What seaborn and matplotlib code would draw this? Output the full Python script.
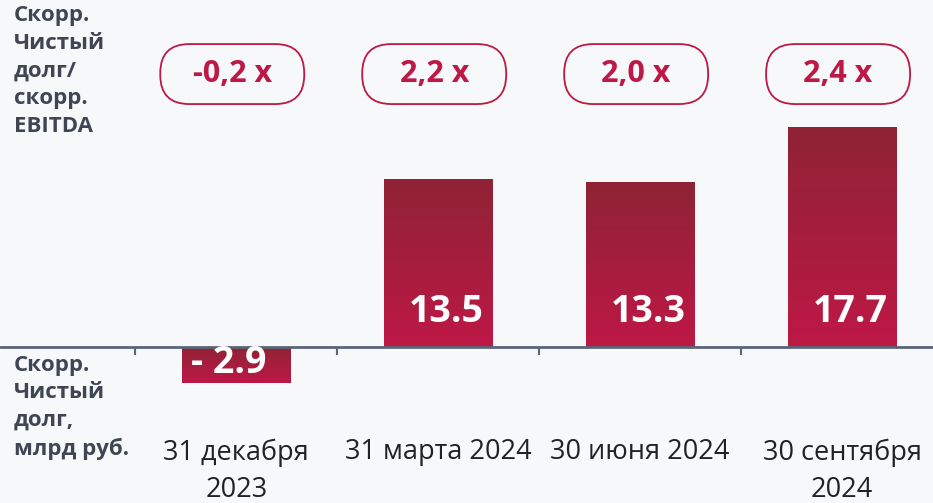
import numpy as np
import pandas as pd
import seaborn as sns
import matplotlib.pyplot as plt
from matplotlib.patches import FancyBboxPatch
from matplotlib.colors import LinearSegmentedColormap

# data
dates = ["31 декабря\n2023", "31 марта 2024", "30 июня 2024", "30 сентября\n2024"]
net_debt = [-2.9, 13.5, 13.3, 17.7]
value_labels = ["- 2.9", "13.5", "13.3", "17.7"]
ratio_labels = ["-0,2 x", "2,2 x", "2,0 x", "2,4 x"]

df = pd.DataFrame({"date": dates, "debt": net_debt})

sns.set_style("white")
plt.rcParams["font.family"] = ["Open Sans", "DejaVu Sans"]

bg = "#F7F8FA"
crimson = "#BE1846"
dark = "#8F2335"
axis_col = "#5B6577"
label_col = "#3F4553"

fig = plt.figure(figsize=(9.33, 5.03), dpi=100, facecolor=bg)
ax = fig.add_axes([0, 0, 1, 1])
ax.set_facecolor(bg)

sns.barplot(data=df, x="date", y="debt", width=0.535, color=crimson, ax=ax,
            zorder=2, linewidth=0)

# scale: ~12.44 px per unit, baseline at 347 px from the top
ymax, ymin = 27.9, -12.54
ax.axis("off")

# gradient fill for each bar (dark at the top, crimson at the bottom)
cmap = LinearSegmentedColormap.from_list("grad", [dark, crimson])
grad = np.linspace(0, 1, 256).reshape(-1, 1)
for patch in ax.patches:
    x0, y0 = patch.get_x(), patch.get_y()
    w, h = patch.get_width(), patch.get_height()
    bottom, top = min(y0, y0 + h), max(y0, y0 + h)
    patch.set_facecolor("none")
    im = ax.imshow(grad, cmap=cmap, aspect="auto", origin="upper",
                   extent=[x0, x0 + w, bottom, top], zorder=2)
    im.set_clip_path(patch)

ax.set_xlim(-1.17, 3.45)
ax.set_ylim(ymin, ymax)

# baseline and category separators
ax.axhline(0, color=axis_col, lw=2, zorder=3)
ax.vlines(np.arange(len(dates) + 1) - 0.5, -0.65, 0, color=axis_col, lw=1.5, zorder=3)

# value labels inside the bars
for i, (v, lab) in enumerate(zip(net_debt, value_labels)):
    if v >= 0:
        ax.text(i + 0.04, 2.8, lab, ha="center", va="center", color="white",
                fontsize=27, fontweight="bold", zorder=4)
    else:
        ax.text(i - 0.04, -1.3, lab, ha="center", va="center", color="white",
                fontsize=27, fontweight="bold", zorder=4)

# category labels
for i, d in enumerate(dates):
    ax.text(i, -7.35, d, ha="center", va="top", color="#222222", fontsize=19.5,
            linespacing=1.42)

# ratio pills
px_x = 1 / 202.0
px_y = 1 / 12.44
pill_w, pill_h = 144 * px_x, 60 * px_y
pill_y = (347 - 74) * px_y
for i, r in enumerate(ratio_labels):
    box = FancyBboxPatch((i - 0.02 - pill_w / 2, pill_y - pill_h / 2), pill_w, pill_h,
                         boxstyle=f"round,pad=0,rounding_size={29 * px_x}",
                         mutation_aspect=px_y / px_x,
                         facecolor="none", edgecolor=crimson, lw=1.3, zorder=3)
    ax.add_patch(box)
    ax.text(i - 0.02, pill_y, r, ha="center", va="center", color=crimson,
            fontsize=22, fontweight="bold", zorder=4)

# side captions
fig.text(0.015, 0.99, "Скорр.\nЧистый\nдолг/\nскорр.\nEBITDA", ha="left", va="top",
         color=label_col, fontsize=16, fontweight="bold", linespacing=1.42)
fig.text(0.015, 0.295, "Скорр.\nЧистый\nдолг,\nмлрд руб.", ha="left", va="top",
         color=label_col, fontsize=16, fontweight="bold", linespacing=1.42)

fig.savefig("out.png", dpi=100, facecolor=bg)
